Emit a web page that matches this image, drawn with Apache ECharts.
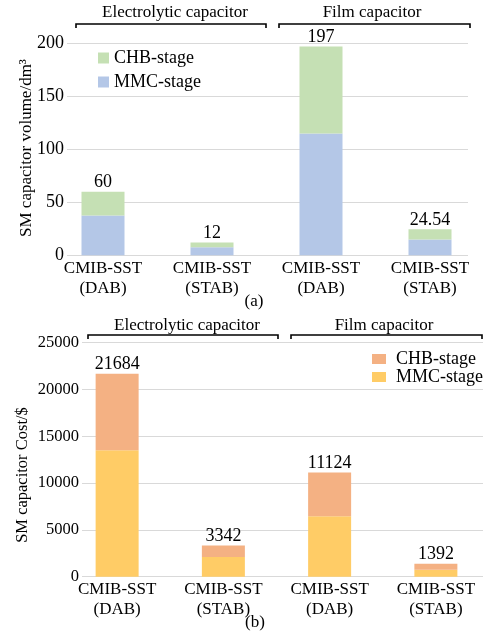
<!DOCTYPE html>
<html><head><meta charset="utf-8">
<script src="https://cdn.jsdelivr.net/npm/echarts@6/dist/echarts.min.js"></script>
<style>html,body{margin:0;padding:0;background:#fff}#a{width:489px;height:310px}#b{width:489px;height:327px}</style>
</head><body><div id="a"></div><div id="b"></div>
<script>
var categories = ['CMIB-SST\n(DAB)', 'CMIB-SST\n(STAB)', 'CMIB-SST\n(DAB)', 'CMIB-SST\n(STAB)'];
var groupLabels = ['Electrolytic capacitor', 'Film capacitor'];
// (a) volume, dm^3
var volMMC = [37.5, 7.5, 115, 15];
var volCHB = [22.5, 4.5, 82, 9.54];
var volTotal = ['60', '12', '197', '24.54'];
var volTicks = [0, 50, 100, 150, 200];
// (b) cost, $
var costMMC = [13500, 2100, 6450, 750];
var costCHB = [8184, 1242, 4674, 642];
var costTotal = ['21684', '3342', '11124', '1392'];
var costTicks = [0, 5000, 10000, 15000, 20000, 25000];

var FONT = 'Liberation Serif';

function build(cfg) {
  var grids = [
    {left: cfg.gl, right: cfg.gr, top: cfg.top, bottom: cfg.bottom},
    {left: cfg.bl, width: cfg.bw, top: cfg.top, bottom: cfg.bottom}
  ];
  var ymax = cfg.ticks[cfg.ticks.length - 1];
  var interval = cfg.ticks[1] - cfg.ticks[0];
  var g = [];
  cfg.br.forEach(function (b, i) {
    g.push({type: 'polyline', shape: {points: [[b[0], b[2] + 4], [b[0], b[2]], [b[1], b[2]], [b[1], b[2] + 4]]},
      style: {stroke: '#000', lineWidth: 1.6, fill: null}, z: 10});
    g.push({type: 'text', x: (b[0] + b[1]) / 2 + cfg.txo[i], y: cfg.ty,
      style: {text: groupLabels[i], fontFamily: FONT, fontSize: 17, fill: '#000', align: 'center', verticalAlign: 'middle'}, z: 10});
  });
  g.push({type: 'text', x: cfg.ttx, y: cfg.tty, rotation: Math.PI / 2,
    style: {text: cfg.ytitle, fontFamily: FONT, fontSize: cfg.tfs, fill: '#000', align: 'center', verticalAlign: 'middle'}});
  g.push({type: 'text', x: cfg.capx, y: cfg.capy,
    style: {text: cfg.cap, fontFamily: FONT, fontSize: 17, fill: '#000', align: 'center', verticalAlign: 'middle'}});
  return {
    animation: false,
    textStyle: {fontFamily: FONT},
    grid: grids,
    legend: {
      data: ['CHB-stage', 'MMC-stage'], orient: 'vertical', left: cfg.lx, top: cfg.ly,
      icon: 'rect', itemWidth: cfg.iw, itemHeight: cfg.ih, itemGap: cfg.lgap,
      textStyle: {fontFamily: FONT, fontSize: 18, color: '#000', lineHeight: cfg.llh, padding: [0, 0, 0, cfg.lpad]}
    },
    xAxis: [
      {type: 'category', gridIndex: 0, data: categories, show: false},
      {type: 'category', gridIndex: 1, data: categories,
        axisLine: {show: false}, axisTick: {show: false},
        axisLabel: {fontFamily: FONT, fontSize: 17, color: '#000', lineHeight: 20, margin: 3, interval: 0}}
    ],
    yAxis: [
      {type: 'value', gridIndex: 0, min: 0, max: ymax, interval: interval,
        axisLine: {show: false}, axisTick: {show: false},
        axisLabel: {fontFamily: FONT, fontSize: cfg.yfs, color: '#000', margin: 3,
          formatter: function (v) { return String(v); }},
        splitLine: {lineStyle: {color: '#d9d9d9', width: 1}}},
      {type: 'value', gridIndex: 1, min: 0, max: ymax, interval: interval, show: false, splitLine: {show: false}}
    ],
    series: [
      {name: 'MMC-stage', type: 'bar', stack: 's', xAxisIndex: 1, yAxisIndex: 1, data: cfg.mmc, barWidth: 43,
        itemStyle: {color: cfg.c1}},
      {name: 'CHB-stage', type: 'bar', stack: 's', xAxisIndex: 1, yAxisIndex: 1, data: cfg.chb, barWidth: 43,
        itemStyle: {color: cfg.c2},
        label: {show: true, position: 'top', distance: 0, fontFamily: FONT, fontSize: 18, color: '#000',
          formatter: function (p) { return cfg.total[p.dataIndex]; }}}
    ],
    graphic: g
  };
}

var ca = echarts.init(document.getElementById('a'));
ca.setOption(build({
  gl: 67, gr: 21, bl: 48.5, bw: 436, top: 43.3, bottom: 54.7,
  ticks: volTicks, mmc: volMMC, chb: volCHB, total: volTotal,
  c1: '#b4c7e7', c2: '#c5e0b4', yfs: 18,
  br: [[76, 266, 24], [279, 470, 24]], ty: 13, txo: [4, -2.5],
  ttx: 27, tty: 148, tfs: 17, ytitle: 'SM capacitor volume/dm\u00B3',
  cap: '(a)', capx: 254, capy: 302,
  lx: 93, ly: 44, iw: 11, ih: 11, lgap: 6, llh: 18, lpad: 0
}));

var cb = echarts.init(document.getElementById('b'));
cb.setOption(build({
  gl: 82, gr: 6, bl: 64, bw: 432, top: 32.7, bottom: 60.3,
  ticks: costTicks, mmc: costMMC, chb: costCHB, total: costTotal,
  c1: '#ffcc66', c2: '#f4b183', yfs: 16.5,
  br: [[88, 278, 25], [291, 482, 25]], ty: 16, txo: [4, -2.5],
  ttx: 23, tty: 165, tfs: 16.5, ytitle: 'SM capacitor Cost/$',
  cap: '(b)', capx: 255, capy: 313,
  lx: 367, ly: 35, iw: 14, ih: 10, lgap: 0, llh: 16, lpad: 5
}));
</script></body></html>
